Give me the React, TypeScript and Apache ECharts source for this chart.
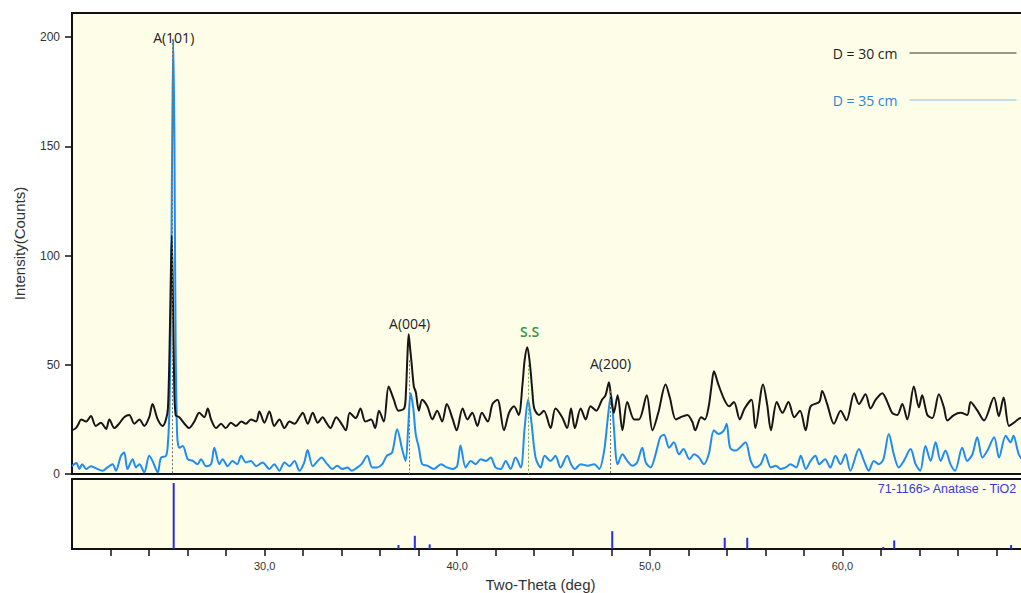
import React, { useEffect, useRef } from "react";
import * as echarts from "echarts";

// XRD scan, sample-to-target distance 30 cm: [two-theta (deg), counts]
const scan30cm: [number, number][] = [
  [20.0, 20], [20.2, 21], [20.33, 22.8], [20.47, 25], [20.73, 24], [20.98, 26.5], [21.23, 22], [21.5, 23.5],
  [21.77, 20.6], [21.94, 25], [22.2, 21], [22.44, 23], [22.71, 26], [22.97, 27], [23.24, 23], [23.5, 25],
  [23.75, 22], [24.01, 26], [24.18, 32], [24.45, 25], [24.71, 22], [24.88, 25], [24.98, 30], [25.06, 55],
  [25.12, 85], [25.18, 109], [25.24, 80], [25.3, 45], [25.38, 27], [25.57, 26], [25.84, 23], [26.07, 21],
  [26.35, 24], [26.61, 28], [26.87, 26], [27.05, 30], [27.22, 25], [27.48, 21], [27.74, 23], [27.98, 21],
  [28.25, 23.5], [28.51, 22], [28.79, 24], [29.03, 23], [29.29, 25], [29.56, 24], [29.73, 28.6], [29.99, 23.5],
  [30.25, 28.6], [30.5, 22], [30.77, 25], [31.03, 21], [31.29, 24], [31.55, 23], [31.81, 26], [31.98, 28],
  [32.24, 23], [32.5, 28], [32.76, 23.5], [33.02, 26], [33.17, 24], [33.42, 21], [33.72, 26], [33.92, 24],
  [34.22, 20], [34.42, 28], [34.73, 25.6], [34.98, 30], [35.23, 24], [35.53, 25], [35.74, 21], [35.94, 29],
  [36.19, 24], [36.44, 40], [36.71, 34], [36.95, 29], [37.25, 30], [37.34, 38], [37.42, 55], [37.48, 64],
  [37.55, 58], [37.64, 50], [37.75, 40], [37.85, 37.5], [38.01, 29], [38.18, 34], [38.45, 31], [38.71, 25],
  [38.96, 29], [39.22, 24], [39.46, 32], [39.77, 25], [39.97, 20], [40.28, 30], [40.53, 25], [40.78, 28],
  [41.05, 22], [41.28, 28], [41.59, 24], [41.83, 32], [42.09, 34], [42.43, 20], [42.69, 28], [42.95, 31],
  [43.19, 27], [43.4, 42], [43.5, 52], [43.64, 58], [43.78, 50], [43.9, 38], [44.0, 30], [44.25, 27],
  [44.5, 29], [44.85, 21], [45.1, 30], [45.45, 26], [45.71, 21], [45.91, 30], [46.11, 21], [46.41, 30],
  [46.67, 25], [46.92, 31], [47.22, 29], [47.52, 34], [47.7, 36], [47.88, 42], [48.0, 34], [48.13, 28],
  [48.33, 36], [48.58, 20], [48.83, 33], [49.19, 25], [49.44, 25], [49.84, 36], [50.14, 20], [50.44, 28],
  [50.82, 41], [51.04, 35], [51.35, 25], [51.6, 26], [51.95, 27], [52.2, 24], [52.36, 20], [52.66, 26],
  [52.86, 25], [53.06, 31], [53.2, 40], [53.33, 47], [53.56, 41], [53.87, 34], [54.12, 31], [54.37, 33],
  [54.67, 25], [54.92, 30], [55.28, 34], [55.48, 21], [55.88, 41], [56.09, 32], [56.29, 20], [56.59, 33],
  [56.89, 28], [57.2, 33], [57.5, 26], [57.8, 29], [58.09, 20], [58.35, 31], [58.8, 33], [58.95, 38],
  [59.21, 32], [59.56, 23], [59.91, 29], [60.21, 24.5], [60.61, 37], [60.86, 32], [61.2, 36.5], [61.46, 30],
  [61.73, 34], [62.07, 37], [62.33, 33], [62.58, 28], [62.85, 27], [63.11, 32], [63.37, 25], [63.71, 40],
  [63.97, 30.5], [64.14, 36], [64.41, 27], [64.67, 25.6], [65.01, 36.5], [65.27, 30.5], [65.45, 24.5], [65.79, 27],
  [66.14, 28], [66.48, 27], [66.66, 33], [67.01, 29], [67.35, 24.5], [67.87, 35], [68.12, 26.5], [68.37, 35],
  [68.65, 22], [68.91, 23.5], [69.25, 25.6], [69.5, 25],
];

// XRD scan, sample-to-target distance 35 cm: [two-theta (deg), counts]
const scan35cm: [number, number][] = [
  [20.0, 3.6], [20.23, 5], [20.38, 2.3], [20.53, 4.5], [20.73, 2.3], [20.98, 3.6], [21.23, 2.7], [21.59, 1.5],
  [21.84, 3], [22.11, 4.5], [22.28, 1.5], [22.54, 8.3], [22.71, 9.8], [22.88, 2.3], [23.15, 6.8], [23.32, 3],
  [23.5, 4.5], [23.75, 0.8], [24.01, 8.3], [24.18, 6], [24.45, 0.8], [24.62, 7.5], [24.88, 8.3], [24.98, 14],
  [25.06, 30], [25.14, 80], [25.2, 150], [25.26, 199], [25.32, 150], [25.38, 60], [25.46, 18], [25.57, 12],
  [25.75, 12.8], [26.01, 6.8], [26.27, 6], [26.52, 4.5], [26.7, 6.8], [26.96, 3.6], [27.22, 4.5], [27.39, 12],
  [27.65, 4.5], [27.82, 6.8], [28.08, 3.6], [28.33, 6], [28.58, 4.5], [28.78, 8.3], [29.03, 5.3], [29.29, 6],
  [29.56, 3.6], [29.9, 5.3], [30.25, 2.3], [30.5, 4.5], [30.77, 1.5], [31.03, 5.3], [31.29, 3.6], [31.55, 6],
  [31.81, 1.5], [32.06, 5.3], [32.23, 11], [32.5, 3.6], [32.76, 6], [32.95, 7.5], [33.25, 4.5], [33.52, 2.3],
  [33.77, 3.8], [34.02, 2.3], [34.3, 3], [34.53, 1.5], [34.81, 3], [35.03, 4.5], [35.33, 8.3], [35.59, 3],
  [35.84, 3], [36.11, 4.5], [36.34, 8.3], [36.62, 9.8], [36.88, 20.5], [37.15, 11], [37.32, 6], [37.46, 22],
  [37.58, 37], [37.72, 30], [37.85, 18], [38.01, 12], [38.18, 4.5], [38.45, 3.8], [38.79, 2.3], [39.16, 4.5],
  [39.47, 3], [39.77, 2.3], [40.0, 3.8], [40.17, 13], [40.44, 3], [40.7, 6], [40.96, 4.5], [41.22, 6.8],
  [41.49, 6], [41.74, 7.5], [41.99, 3], [42.26, 2.3], [42.52, 6], [42.77, 2.3], [43.03, 7.5], [43.3, 3],
  [43.5, 21], [43.68, 34], [43.85, 24], [44.07, 7.5], [44.33, 3], [44.54, 8.3], [44.85, 6], [45.1, 8.3],
  [45.36, 3], [45.71, 8.3], [45.91, 4.5], [46.11, 2.3], [46.41, 4.5], [46.77, 3.8], [47.12, 4.5], [47.37, 2.3],
  [47.63, 10.7], [47.8, 24], [47.92, 33], [48.0, 36], [48.13, 22], [48.33, 4.5], [48.58, 9], [48.83, 6],
  [49.1, 3.8], [49.34, 5.3], [49.61, 12], [49.79, 5.3], [50.04, 3], [50.3, 9], [50.54, 16.8], [50.74, 18],
  [51.0, 12], [51.25, 14.5], [51.52, 9], [51.75, 11.4], [52.06, 6.8], [52.3, 9], [52.56, 7.5], [52.81, 4.5],
  [53.06, 9], [53.33, 20], [53.56, 18.3], [53.85, 20], [53.99, 23], [54.17, 12], [54.45, 10.7], [54.67, 12],
  [54.97, 14.5], [55.24, 6], [55.48, 3], [55.76, 4.5], [55.99, 9], [56.29, 3], [56.54, 3.8], [56.79, 2.3],
  [57.06, 3], [57.3, 4.5], [57.6, 3], [57.84, 8.3], [58.1, 2.3], [58.35, 6], [58.6, 8.3], [58.8, 4.5],
  [59.1, 6.8], [59.37, 3], [59.64, 8.3], [59.9, 4.5], [60.16, 9], [60.41, 1.5], [60.86, 11.4], [61.12, 6],
  [61.37, 1.5], [61.63, 6], [61.89, 4.5], [62.13, 6.8], [62.41, 18.3], [62.67, 9], [62.93, 3], [63.19, 6],
  [63.54, 11.4], [63.8, 4.5], [64.04, 1.5], [64.31, 12.8], [64.58, 6], [64.84, 14.5], [65.1, 6], [65.35, 10.7],
  [65.61, 4.5], [65.85, 1.5], [66.22, 12], [66.48, 6], [66.75, 9], [67.0, 16.8], [67.27, 7.5], [67.53, 10.7],
  [67.88, 16.8], [68.13, 7.5], [68.48, 17.5], [68.73, 14.5], [68.88, 17.5], [69.16, 9], [69.5, 5],
];

const seriesNames = ["D = 30 cm", "D = 35 cm"];

// Reference pattern 71-1166 (anatase TiO2): line positions and relative intensities
const refCardLabel = "71-1166> Anatase - TiO2";
const refAngles = [25.28, 36.95, 37.8, 38.57, 48.05, 53.89, 55.06, 62.12, 62.69, 68.76];
const refIntensity = [100, 6, 20, 7, 27, 17, 17, 3, 13, 6];

// Peak assignments: label text, label anchor and the dotted drop line
const peakNames = ["A(101)", "A(004)", "S.S", "A(200)"];
const peakLabelAt: [number, number][] = [[25.28, 200], [37.53, 69], [43.76, 65], [47.96, 50.4]];
const dropLineAt: [number, number][] = [[25.22, 199], [37.53, 52], [43.67, 50], [47.97, 38]];

const yTickValues = [0, 50, 100, 150, 200];
const xLabelValues = [30, 40, 50, 60];
const xTickValues = [22, 24, 26, 28, 30, 32, 34, 36, 38, 40, 42, 44, 46, 48, 50, 52, 54, 56, 58, 60, 62, 64, 66, 68];

const PANEL_BG = "#fdfde8";
const FRAME = "#111111";
const AXIS_FONT = "'Liberation Sans', Arial, sans-serif";
const NOTE_FONT = "'Open Sans', 'Noto Sans', sans-serif";
const BLACK = "#161616";
const BLUE = "#1f8cef";
const SS_GREEN = "#2f9a3c";

export default function App() {
  const ref = useRef<HTMLDivElement>(null);

  useEffect(() => {
    document.body.style.margin = "0";
    document.body.style.overflow = "hidden";
    if (!ref.current) return;
    const chart = echarts.init(ref.current, undefined, { renderer: "svg" });

    const option: any = {
      animation: false,
      backgroundColor: "#ffffff",
      legend: {
        orient: "vertical",
        right: -1,
        top: 41,
        align: "right",
        itemWidth: 107,
        itemHeight: 14,
        itemGap: 33,
        textStyle: { fontFamily: NOTE_FONT, fontSize: 14, padding: [0, 7, 0, 0] },
        data: [
          {
            name: seriesNames[0],
            textStyle: { color: "#1e1e1e" },
            lineStyle: { color: "#333333", width: 1 },
            itemStyle: { opacity: 0 },
          },
          {
            name: seriesNames[1],
            textStyle: { color: "#2a86d6" },
            lineStyle: { color: "#86c4ee", width: 1 },
            itemStyle: { opacity: 0 },
          },
        ],
      },
      grid: [
        {
          left: 72, top: 13, width: 963, height: 461, outerBoundsMode: "none",
          show: true, backgroundColor: PANEL_BG, borderColor: FRAME, borderWidth: 2,
        },
        {
          left: 72, top: 479, width: 963, height: 70, outerBoundsMode: "none",
          show: true, backgroundColor: PANEL_BG, borderColor: FRAME, borderWidth: 2,
        },
      ],
      xAxis: [
        { type: "value", gridIndex: 0, min: 20, max: 70, show: false },
        {
          type: "value",
          gridIndex: 1,
          min: 20,
          max: 70,
          axisLine: { show: false },
          splitLine: { show: false },
          axisTick: { show: true, customValues: xTickValues, length: 7, lineStyle: { color: FRAME, width: 1.5 } },
          axisLabel: {
            customValues: xLabelValues,
            formatter: (v: number) => v.toFixed(1).replace(".", ","),
            fontFamily: AXIS_FONT,
            fontSize: 11,
            color: "#333333",
            margin: 11,
          },
          name: "Two-Theta (deg)",
          nameLocation: "middle",
          nameGap: 28,
          nameTextStyle: { fontFamily: AXIS_FONT, fontSize: 15, color: "#333333", padding: [0, 26, 0, 0] },
        },
      ],
      yAxis: [
        {
          type: "value",
          gridIndex: 0,
          min: 0,
          max: 211,
          axisLine: { show: false },
          splitLine: { show: false },
          axisTick: { show: true, customValues: yTickValues, length: 7, lineStyle: { color: FRAME, width: 1.5 } },
          axisLabel: { customValues: yTickValues, fontFamily: AXIS_FONT, fontSize: 12, color: "#333333", margin: 12 },
          name: "Intensity(Counts)",
          nameLocation: "middle",
          nameGap: 45,
          nameTextStyle: { fontFamily: AXIS_FONT, fontSize: 15, color: "#333333" },
        },
        { type: "value", gridIndex: 1, min: 0, max: 106, show: false },
      ],
      graphic: [
        {
          type: "text",
          right: 4,
          top: 482,
          style: { text: refCardLabel, fontFamily: AXIS_FONT, fontSize: 12.5, fill: "#3a3ad6" },
        },
      ],
      series: [
        {
          name: seriesNames[1],
          type: "line",
          xAxisIndex: 0,
          yAxisIndex: 0,
          data: scan35cm,
          symbol: "none",
          smooth: 0.3,
          lineStyle: { color: BLUE, width: 2 },
          itemStyle: { color: BLUE },
          z: 2,
        },
        {
          name: seriesNames[0],
          type: "line",
          xAxisIndex: 0,
          yAxisIndex: 0,
          data: scan30cm,
          symbol: "none",
          smooth: 0.3,
          lineStyle: { color: BLACK, width: 2 },
          itemStyle: { color: BLACK },
          z: 3,
          markLine: {
            silent: true,
            symbol: ["none", "none"],
            label: { show: false },
            data: dropLineAt.map(([x, y], i) => [
              {
                coord: [x, y],
                lineStyle: { color: peakNames[i] === "S.S" ? "#7aa85a" : "#6f6f6f", width: 1, type: [2, 2] },
              },
              { coord: [x, 0] },
            ]),
          },
          markPoint: {
            silent: true,
            symbol: "circle",
            symbolSize: 1,
            itemStyle: { color: "rgba(0,0,0,0)" },
            data: peakNames.map((n, i) => ({
              name: n,
              coord: peakLabelAt[i],
              label: {
                show: true,
                position: "inside",
                formatter: "{b}",
                fontFamily: NOTE_FONT,
                fontSize: 14,
                fontWeight: n === "S.S" ? 600 : 400,
                color: n === "S.S" ? SS_GREEN : "#222222",
              },
            })),
          },
        },
        {
          name: refCardLabel,
          type: "bar",
          xAxisIndex: 1,
          yAxisIndex: 1,
          barWidth: 2,
          data: refAngles.map((a, i) => [a, refIntensity[i]]),
          itemStyle: { color: "#2b2be0" },
        },
      ],
    };

    chart.setOption(option);
    return () => chart.dispose();
  }, []);

  return <div ref={ref} style={{ width: 1021, height: 593 }} />;
}
